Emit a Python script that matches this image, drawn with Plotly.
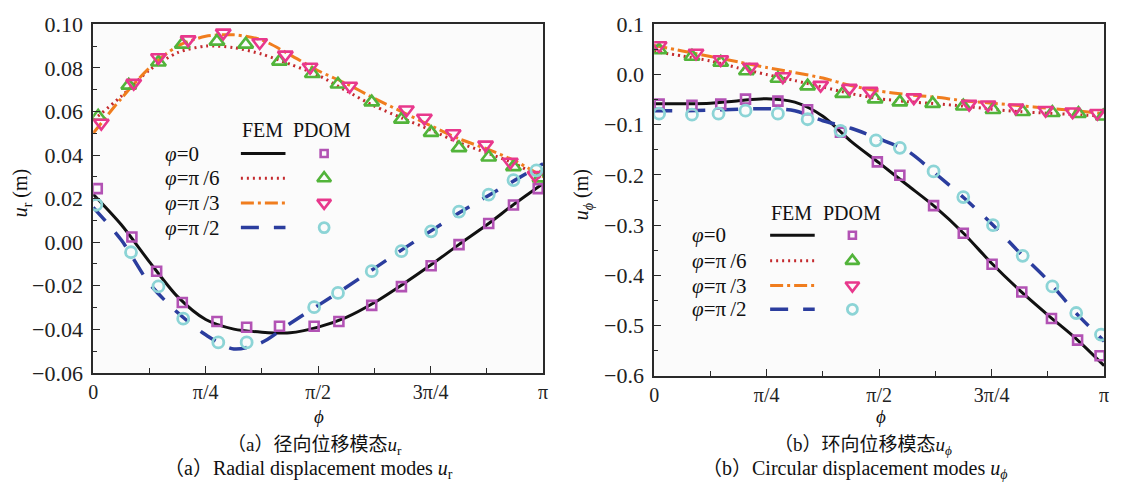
import numpy as np
import plotly.graph_objects as go

W, H = 1123, 498
PI = np.pi

# ---------------- data (phi given in units of pi) ----------------
FEM_PHI = [0, 0.0625, 0.125, 0.1875, 0.25, 0.3125, 0.375, 0.4375, 0.5,
           0.5625, 0.625, 0.6875, 0.75, 0.8125, 0.875, 0.9375, 1.0]

# (a) radial displacement u_r, FEM
UR_FEM_0 = [0.022, 0.008, -0.009, -0.025, -0.0355, -0.0399, -0.0413, -0.0416, -0.039,
            -0.0345, -0.0277, -0.0194, -0.0105, -0.0011, 0.008, 0.0178, 0.027]
UR_FEM_PI6 = [0.056, 0.067, 0.079, 0.087, 0.0900, 0.0893, 0.0863, 0.0817, 0.0766,
              0.0695, 0.0625, 0.0569, 0.0515, 0.0457, 0.0410, 0.0360, 0.029]
UR_FEM_PI3 = [0.050, 0.066, 0.080, 0.090, 0.0945, 0.0952, 0.0928, 0.0860, 0.0787,
              0.0728, 0.0660, 0.0597, 0.0535, 0.0475, 0.0428, 0.0373, 0.030]
UR_FEM_PI2 = [0.016, 0.001, -0.019, -0.0323, -0.0425, -0.049, -0.046, -0.0373, -0.029,
              -0.0207, -0.012, -0.0033, 0.0051, 0.0134, 0.021, 0.0285, 0.036]

# (a) PDOM points
UR_SQ_PHI = [0.009, 0.086, 0.141, 0.198, 0.275, 0.341, 0.414, 0.491, 0.546, 0.619,
             0.685, 0.751, 0.813, 0.879, 0.934, 0.989]
UR_SQ = [0.0246, 0.0024, -0.0133, -0.0277, -0.0364, -0.0390, -0.0386, -0.0386, -0.0364,
         -0.029, -0.0204, -0.0108, -0.0011, 0.0086, 0.0171, 0.0246]
UR_TRI_PHI = [0.011, 0.079, 0.145, 0.198, 0.275, 0.339, 0.414, 0.487, 0.544, 0.619,
              0.685, 0.751, 0.813, 0.879, 0.934, 0.993]
UR_TRI = [0.0577, 0.072, 0.0826, 0.0908, 0.0922, 0.0908, 0.083, 0.0773, 0.0725, 0.0643,
          0.0564, 0.0503, 0.0433, 0.039, 0.0346, 0.0294]
UR_DTRI_PHI = [0.018, 0.090, 0.145, 0.211, 0.289, 0.370, 0.427, 0.482, 0.570, 0.696,
               0.736, 0.800, 0.872, 0.927, 0.982]
UR_DTRI = [0.0547, 0.073, 0.0848, 0.093, 0.0961, 0.0917, 0.086, 0.0804, 0.0717, 0.0608,
           0.057, 0.0499, 0.0447, 0.0368, 0.0307]
UR_CIR_PHI = [0.007, 0.084, 0.145, 0.200, 0.278, 0.341, 0.491, 0.544, 0.619, 0.685,
              0.751, 0.813, 0.879, 0.934, 0.985]
UR_CIR = [0.0172, -0.0046, -0.0203, -0.0351, -0.046, -0.046, -0.0298, -0.0233, -0.0133,
          -0.0041, 0.005, 0.0140, 0.0218, 0.0285, 0.033]

# (b) circular displacement u_phi, FEM
UP_FEM_0 = [-0.058, -0.058, -0.057, -0.052, -0.048, -0.055, -0.083, -0.133, -0.176,
            -0.220, -0.264, -0.316, -0.376, -0.430, -0.479, -0.526, -0.580]
UP_FEM_PI6 = [0.046, 0.037, 0.027, 0.013, 0.0, -0.012, -0.025, -0.038, -0.048,
              -0.054, -0.058, -0.063, -0.069, -0.074, -0.077, -0.080, -0.083]
UP_FEM_PI3 = [0.058, 0.047, 0.036, 0.025, 0.014, 0.004, -0.007, -0.022, -0.033,
              -0.040, -0.045, -0.052, -0.057, -0.062, -0.067, -0.072, -0.078]
UP_FEM_PI2 = [-0.072, -0.072, -0.071, -0.069, -0.068, -0.072, -0.092, -0.107, -0.128,
              -0.152, -0.197, -0.245, -0.297, -0.355, -0.410, -0.475, -0.531]

# (b) PDOM points
UP_SQ_PHI = [0.011, 0.084, 0.148, 0.203, 0.275, 0.341, 0.414, 0.496, 0.546, 0.621,
             0.687, 0.751, 0.817, 0.883, 0.941, 0.991]
UP_SQ = [-0.059, -0.061, -0.059, -0.049, -0.053, -0.070, -0.115, -0.174, -0.2006, -0.261,
         -0.316, -0.378, -0.433, -0.486, -0.529, -0.56]
UP_TRI_PHI = [0.011, 0.084, 0.148, 0.205, 0.275, 0.341, 0.419, 0.491, 0.546, 0.619,
              0.687, 0.753, 0.819, 0.885, 0.943, 0.998]
UP_TRI = [0.049, 0.036, 0.024, 0.007, -0.008, -0.023, -0.038, -0.049, -0.055, -0.058,
          -0.063, -0.070, -0.074, -0.076, -0.078, -0.083]
UP_DTRI_PHI = [0.011, 0.093, 0.148, 0.214, 0.286, 0.370, 0.434, 0.480, 0.577, 0.700,
               0.742, 0.804, 0.870, 0.930, 0.985]
UP_DTRI = [0.058, 0.043, 0.030, 0.015, -0.004, -0.021, -0.027, -0.033, -0.046, -0.059,
           -0.060, -0.066, -0.071, -0.074, -0.077]
UP_CIR_PHI = [0.011, 0.084, 0.143, 0.203, 0.275, 0.341, 0.414, 0.493, 0.546, 0.621,
              0.687, 0.753, 0.819, 0.885, 0.938, 0.993]
UP_CIR = [-0.078, -0.080, -0.078, -0.072, -0.078, -0.089, -0.112, -0.131, -0.146, -0.193,
          -0.244, -0.30, -0.361, -0.422, -0.475, -0.518]

X_TICKVALS = [0, 0.25, 0.5, 0.75, 1.0]
X_TICKTEXT = ["0", "π/4", "π/2", "3π/4", "π"]
X_MINOR = [0.125, 0.375, 0.625, 0.875]

LEGEND_LABELS = ["<i>φ</i>=0", "<i>φ</i>=π\u2009/6", "<i>φ</i>=π\u2009/3", "<i>φ</i>=π\u2009/2"]

# ---------------- styles ----------------
SERIF = "Liberation Serif, Noto Sans CJK SC, serif"
AX = "#2a2a2a"
LINES = [
    dict(color="#111111", width=3, dash="solid"),
    dict(color="#c42a2e", width=3, dash="2px,4px"),
    dict(color="#f07d1e", width=3, dash="13px,4px,3px,4px"),
    dict(color="#2b3d9e", width=3.5, dash="18px,15px"),
]
MARKERS = [
    dict(symbol="square-open", size=9, color="#b252b4", line=dict(width=2.6, color="#b252b4")),
    dict(symbol="triangle-up-open", size=13, color="#52b43a", line=dict(width=2.6, color="#52b43a")),
    dict(symbol="triangle-down-open", size=13, color="#e8388c", line=dict(width=2.6, color="#e8388c")),
    dict(symbol="circle-open", size=11, color="#8cd4d6", line=dict(width=2.8, color="#8cd4d6")),
]
LEG_MARKERS = [
    dict(symbol="square-open", size=7, color="#b252b4", line=dict(width=2.6, color="#b252b4")),
    dict(symbol="triangle-up-open", size=12, color="#52b43a", line=dict(width=2.6, color="#52b43a")),
    dict(symbol="triangle-down-open", size=12, color="#e8388c", line=dict(width=2.6, color="#e8388c")),
    dict(symbol="circle-open", size=10, color="#8cd4d6", line=dict(width=2.8, color="#8cd4d6")),
]

fig = go.Figure()

def rad(lst):
    return [v * PI for v in lst]

panels = [
    ("x", "y", [UR_FEM_0, UR_FEM_PI6, UR_FEM_PI3, UR_FEM_PI2],
     [(UR_SQ_PHI, UR_SQ), (UR_TRI_PHI, UR_TRI), (UR_DTRI_PHI, UR_DTRI), (UR_CIR_PHI, UR_CIR)]),
    ("x2", "y2", [UP_FEM_0, UP_FEM_PI6, UP_FEM_PI3, UP_FEM_PI2],
     [(UP_SQ_PHI, UP_SQ), (UP_TRI_PHI, UP_TRI), (UP_DTRI_PHI, UP_DTRI), (UP_CIR_PHI, UP_CIR)]),
]
for xa, ya, fems, pdoms in panels:
    for i, ys in enumerate(fems):
        fig.add_trace(go.Scatter(x=rad(FEM_PHI), y=ys, mode="lines", xaxis=xa, yaxis=ya,
                                 line=dict(**LINES[i], shape="spline", smoothing=0.8),
                                 showlegend=False))
    for i, (px, py) in enumerate(pdoms):
        fig.add_trace(go.Scatter(x=rad(px), y=py, mode="markers", xaxis=xa, yaxis=ya,
                                 marker=MARKERS[i], showlegend=False))

# ---------------- custom legends (pixel coordinates on an overlay axis) ----------------
legend_specs = [
    dict(text_x=159, line_x=(238, 283), mark_x=322, rows=[149, 175, 201, 227], head_y=124,
         fem_x=260, pdom_x=320),
    dict(text_x=691, line_x=(772, 817), mark_x=855, rows=[235, 262, 288, 313], head_y=212,
         fem_x=794, pdom_x=855),
]
annotations = []
for spec in legend_specs:
    for i, ry in enumerate(spec["rows"]):
        fig.add_trace(go.Scatter(x=list(spec["line_x"]), y=[ry, ry], mode="lines",
                                 xaxis="x3", yaxis="y3", line=LINES[i], showlegend=False))
        fig.add_trace(go.Scatter(x=[spec["mark_x"]], y=[ry], mode="markers",
                                 xaxis="x3", yaxis="y3", marker=LEG_MARKERS[i], showlegend=False))
        annotations.append(dict(x=spec["text_x"], y=ry, xref="x3", yref="y3", text=LEGEND_LABELS[i],
                                showarrow=False, xanchor="left", yanchor="middle",
                                font=dict(family=SERIF, size=21, color="#111")))
    annotations.append(dict(x=spec["fem_x"], y=spec["head_y"], xref="x3", yref="y3", text="FEM",
                            showarrow=False, xanchor="center", yanchor="middle",
                            font=dict(family=SERIF, size=20, color="#111")))
    annotations.append(dict(x=spec["pdom_x"], y=spec["head_y"], xref="x3", yref="y3", text="PDOM",
                            showarrow=False, xanchor="center", yanchor="middle",
                            font=dict(family=SERIF, size=20, color="#111")))

# axis titles and captions
texts = [
    (17, 190, "<i>u</i><sub>r</sub> (m)", -90, 20),
    (583, 192, "<i>u</i><sub><i>ϕ</i></sub> (m)", -90, 20),
    (317, 426, "<i>ϕ</i>", 0, 19),
    (884, 426, "<i>ϕ</i>", 0, 19),
    (312, 457, "（a）径向位移模态<i>u</i><sub>r</sub>", 0, 19),
    (306, 482, "（a）Radial displacement modes <i>u</i><sub>r</sub>", 0, 20),
    (866, 457, "（b）环向位移模态<i>u</i><sub><i>ϕ</i></sub>", 0, 19),
    (858, 482, "（b）Circular displacement modes <i>u</i><sub><i>ϕ</i></sub>", 0, 20),
]
for x, y, t, ang, sz in texts:
    annotations.append(dict(x=x, y=y, xref="x3", yref="y3", text=t, showarrow=False,
                            textangle=ang, xanchor="center", yanchor="middle",
                            font=dict(family=SERIF, size=sz, color="#111")))

def xaxis_cfg(domain, anchor):
    return dict(domain=domain, anchor=anchor, range=[0, PI], tickmode="array",
                tickvals=rad(X_TICKVALS), ticktext=X_TICKTEXT, ticks="inside", ticklen=7,
                tickwidth=1.4, tickcolor=AX, showline=True, linecolor=AX, linewidth=1.6,
                mirror=True, showgrid=False, zeroline=False, ticklabelstandoff=0,
                tickfont=dict(family=SERIF, size=20, color="#222"),
                minor=dict(tickmode="array", tickvals=rad(X_MINOR), ticks="inside",
                           ticklen=5, tickwidth=1.2, tickcolor=AX, showgrid=False),
                fixedrange=True)

def yaxis_cfg(domain, anchor, rng, dtick, fmt):
    return dict(domain=domain, anchor=anchor, range=rng, tick0=0, dtick=dtick, tickformat=fmt,
                ticks="inside", ticklen=7, tickwidth=1.4, tickcolor=AX, showline=True,
                linecolor=AX, linewidth=1.6, mirror=True, showgrid=False, zeroline=False,
                ticklabelstandoff=4, tickfont=dict(family=SERIF, size=22, color="#222"),
                minor=dict(dtick=dtick / 2, ticks="inside", ticklen=4, tickwidth=1.2,
                           tickcolor=AX, showgrid=False),
                fixedrange=True)

fig.update_layout(
    width=W, height=H, margin=dict(l=0, r=0, t=0, b=0),
    paper_bgcolor="white", plot_bgcolor="rgba(0,0,0,0)",
    xaxis=xaxis_cfg([89 / W, 543 / W], "y"),
    yaxis=yaxis_cfg([(H - 380) / H, (H - 13) / H], "x", [-0.06, 0.10], 0.02, ".2f"),
    xaxis2=xaxis_cfg([655 / W, 1109 / W], "y2"),
    yaxis2=yaxis_cfg([(H - 383) / H, (H - 13) / H], "x2", [-0.6, 0.1], 0.1, ".1f"),
    xaxis3=dict(domain=[0, 1], anchor="y3", range=[0, W], visible=False, fixedrange=True),
    yaxis3=dict(domain=[0, 1], anchor="x3", range=[H, 0], visible=False, fixedrange=True),
    annotations=annotations,
    shapes=[
        dict(type="rect", xref="x domain", yref="y domain", x0=0, x1=1, y0=0, y1=1,
             fillcolor="#fbfbfb", line=dict(width=0), layer="below"),
        dict(type="rect", xref="x2 domain", yref="y2 domain", x0=0, x1=1, y0=0, y1=1,
             fillcolor="#fbfbfb", line=dict(width=0), layer="below"),
    ],
    showlegend=False,
)

fig.write_html("out.html")
